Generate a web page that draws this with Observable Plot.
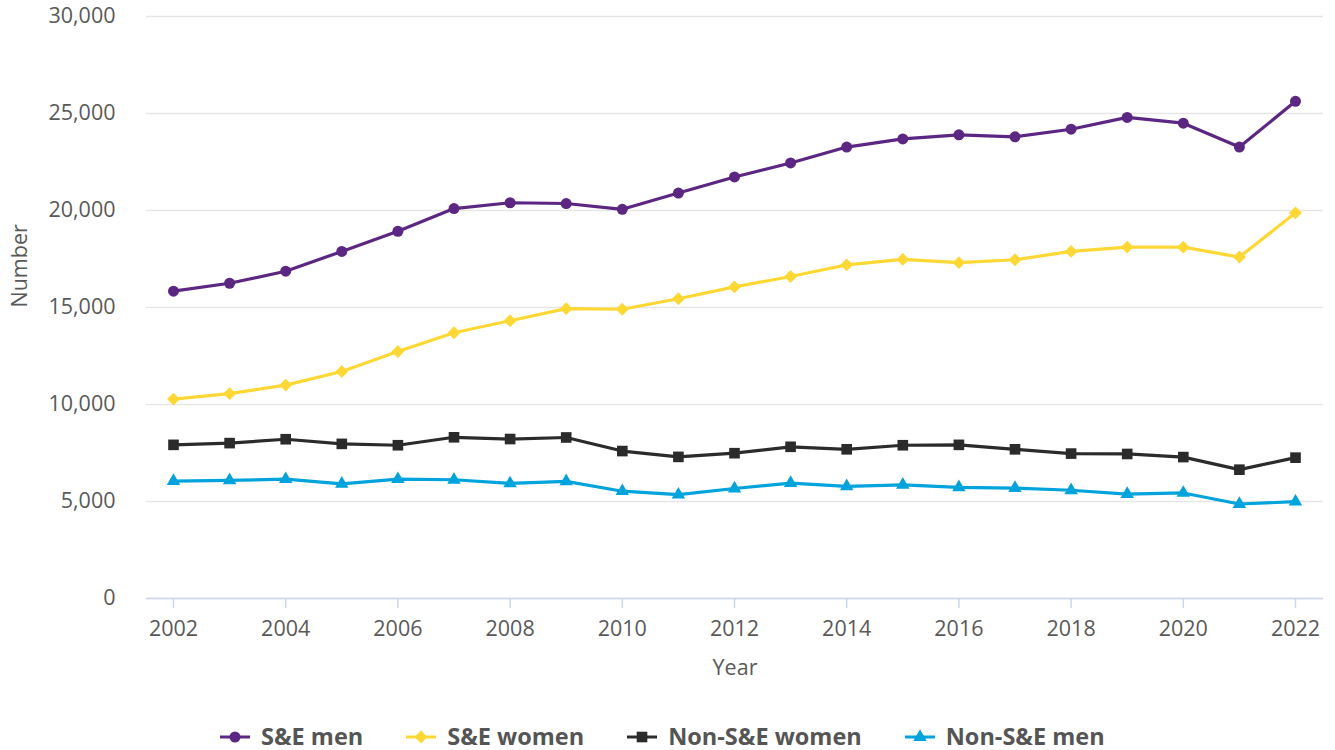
<!DOCTYPE html>
<html>
<head>
<meta charset="utf-8">
<script src="https://cdn.jsdelivr.net/npm/d3@7"></script>
<script src="https://cdn.jsdelivr.net/npm/@observablehq/plot@0.6"></script>
<style>
  html, body { margin: 0; padding: 0; background: #fff; overflow: hidden; width: 1335px; height: 750px; position: relative; }
  #chart svg { display: block; }
  #legend { position: absolute; left: 220px; top: 721px; height: 32px; display: flex; align-items: center; font-family: "Open Sans", sans-serif; font-weight: 700; font-size: 23.5px; line-height: 1; color: #555; }
  .item { display: flex; align-items: center; margin-right: 43px; }
  .item svg { margin-right: 11px; }
</style>
</head>
<body>
<div id="chart"></div>
<div id="legend"></div>
<script>
const years = [2002, 2003, 2004, 2005, 2006, 2007, 2008, 2009, 2010, 2011, 2012, 2013, 2014, 2015, 2016, 2017, 2018, 2019, 2020, 2021, 2022];
const seMen      = [15840, 16250, 16870, 17890, 18930, 20100, 20400, 20360, 20060, 20900, 21730, 22450, 23270, 23690, 23900, 23800, 24190, 24800, 24500, 23270, 25630];
const seWomen    = [10280, 10560, 11000, 11700, 12730, 13700, 14320, 14940, 14910, 15450, 16060, 16600, 17200, 17480, 17310, 17460, 17890, 18110, 18110, 17600, 19880];
const nonSeWomen = [7920, 8010, 8210, 7970, 7900, 8310, 8220, 8300, 7600, 7300, 7490, 7820, 7690, 7900, 7920, 7690, 7470, 7450, 7290, 6640, 7260];
const nonSeMen   = [6050, 6090, 6150, 5910, 6150, 6120, 5930, 6040, 5530, 5350, 5670, 5950, 5780, 5860, 5730, 5690, 5580, 5380, 5440, 4870, 4990];
const seriesNames = ["S&E men", "S&E women", "Non-S&E women", "Non-S&E men"];
const seriesValues = [seMen, seWomen, nonSeWomen, nonSeMen];
const seriesColors = ["#5b2783", "#fdd835", "#2b2b2b", "#00a3dc"];
const seriesSymbols = ["circle", "diamond2", "square", "triangle"];
const seriesR = [5.5, 5.8, 6.0, 5.0];
const xTicks = [2002, 2004, 2006, 2008, 2010, 2012, 2014, 2016, 2018, 2020, 2022];
const yTicks = [0, 5000, 10000, 15000, 20000, 25000, 30000];

const textColor = "#595959";
const series = seriesNames.map((name, k) => ({
  name, color: seriesColors[k], symbol: seriesSymbols[k], r: seriesR[k],
  data: years.map((year, i) => ({year, value: seriesValues[k][i], series: name}))
}));

const marks = [
  Plot.gridY({ticks: yTicks, stroke: "#e6e6e6", strokeOpacity: 1, strokeWidth: 1.5}),
  Plot.axisY({ticks: yTicks, tickSize: 0, tickPadding: 31, tickFormat: d3.format(","), label: null, fill: textColor}),
  Plot.ruleY([0], {stroke: "#ccd6eb", strokeWidth: 1.5}),
  Plot.axisX({ticks: xTicks, tickSize: 10, tickPadding: 12, tickFormat: d => String(d), stroke: "#ccd6eb", strokeWidth: 1.5, fill: textColor, label: null}),
  Plot.text(["Number"], {text: d => d, frameAnchor: "left", dx: -126, rotate: -90, fill: textColor}),
  Plot.text(["Year"], {text: d => d, frameAnchor: "bottom", dy: 76, fill: textColor})
];
for (const s of series) {
  marks.push(Plot.line(s.data, {x: "year", y: "value", stroke: s.color, strokeWidth: 3.2}));
}
for (const s of series) {
  marks.push(Plot.dot(s.data, {x: "year", y: "value", fill: s.color, stroke: "none", symbol: s.symbol, r: s.r}));
}

const chart = Plot.plot({
  width: 1335,
  height: 700,
  marginTop: 16,
  marginLeft: 146,
  marginRight: 12,
  marginBottom: 102,
  style: {fontFamily: "'Open Sans', sans-serif", fontSize: "21.5px", color: textColor, background: "white", overflow: "visible"},
  x: {domain: [2002, 2022], insetLeft: 27, insetRight: 28},
  y: {domain: [0, 30000]},
  marks
});
document.getElementById("chart").appendChild(chart);

// legend
const legend = document.getElementById("legend");
const symbolMap = {circle: d3.symbolCircle, diamond2: d3.symbolDiamond2, square: d3.symbolSquare, triangle: d3.symbolTriangle};
for (const s of series) {
  const item = document.createElement("div");
  item.className = "item";
  const sw = d3.create("svg").attr("width", 30).attr("height", 20);
  sw.append("line").attr("x1", 0).attr("x2", 30).attr("y1", 10).attr("y2", 10).attr("stroke", s.color).attr("stroke-width", 3);
  sw.append("path").attr("transform", "translate(15,10)")
    .attr("d", d3.symbol(symbolMap[s.symbol], Math.PI * s.r * s.r)()).attr("fill", s.color);
  item.appendChild(sw.node());
  const label = document.createElement("span");
  label.textContent = s.name;
  item.appendChild(label);
  legend.appendChild(item);
}
</script>
</body>
</html>
